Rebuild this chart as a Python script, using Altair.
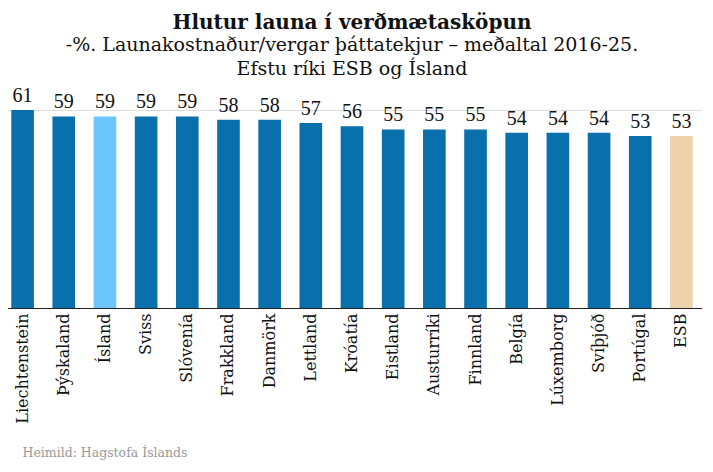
import altair as alt
import pandas as pd

countries = ["Liechtenstein", "Þýskaland", "Ísland", "Sviss", "Slóvenía", "Frakkland",
             "Danmörk", "Lettland", "Króatía", "Eistland", "Austurríki", "Finnland",
             "Belgía", "Lúxemborg", "Svíþjóð", "Portúgal", "ESB"]
values = [61, 59, 59, 59, 59, 58, 58, 57, 56, 55, 55, 55, 54, 54, 54, 53, 53]
groups = ["land", "land", "island", "land", "land", "land", "land", "land", "land",
          "land", "land", "land", "land", "land", "land", "land", "esb"]

df = pd.DataFrame({"land": countries, "gildi": values, "hopur": groups})

SERIF = "DejaVu Serif"
NUMF = "Liberation Serif"

base = alt.Chart(df).encode(
    x=alt.X("land:N", sort=countries,
            scale=alt.Scale(paddingInner=0.45, paddingOuter=0.225),
            axis=alt.Axis(title="Heimild: Hagstofa Íslands", titleFont=SERIF,
                          titleFontSize=12.5, titleFontWeight="normal", titleColor="#999999",
                          titleAnchor="start", titleAlign="left", titleX=20, titleY=148,
                          titleBaseline="alphabetic",
                          labelAngle=-90, labelAlign="right", labelBaseline="middle",
                          labelFont=SERIF, labelFontSize=16, labelColor="#111111",
                          labelPadding=5, ticks=False, domainColor="#222222",
                          domainWidth=1.2)),
)

bars = base.mark_bar().encode(
    y=alt.Y("gildi:Q", scale=alt.Scale(domain=[0, 61], nice=False), axis=None),
    color=alt.Color("hopur:N",
                    scale=alt.Scale(domain=["land", "island", "esb"],
                                    range=["#0a70ab", "#6cc6fb", "#eed2ad"]),
                    legend=None),
)

labels = base.mark_text(baseline="bottom", dy=-4, font=NUMF, fontSize=20,
                        color="#111111").encode(
    y=alt.Y("gildi:Q"),
    text=alt.Text("gildi:Q"),
)

chart = (bars + labels).properties(
    width=700,
    height=198,
    autosize=alt.AutoSizeParams(type="none"),
    padding={"left": -6, "right": 0, "top": 102, "bottom": 155},
    title=alt.TitleParams(
        text="Hlutur launa í verðmætasköpun",
        subtitle=["-%. Launakostnaður/vergar þáttatekjur – meðaltal 2016-25.",
                  "Efstu ríki ESB og Ísland"],
        font=SERIF, fontSize=20, fontWeight="bold", color="#111111",
        subtitleFont=SERIF, subtitleFontSize=19, subtitleColor="#111111",
        subtitleLineHeight=24, subtitlePadding=3,
        anchor="middle", frame="group", offset=7,
    ),
).configure_view(stroke=None).configure(background="white")

chart.save("out.html", embed_options={"renderer": "svg", "actions": False})
